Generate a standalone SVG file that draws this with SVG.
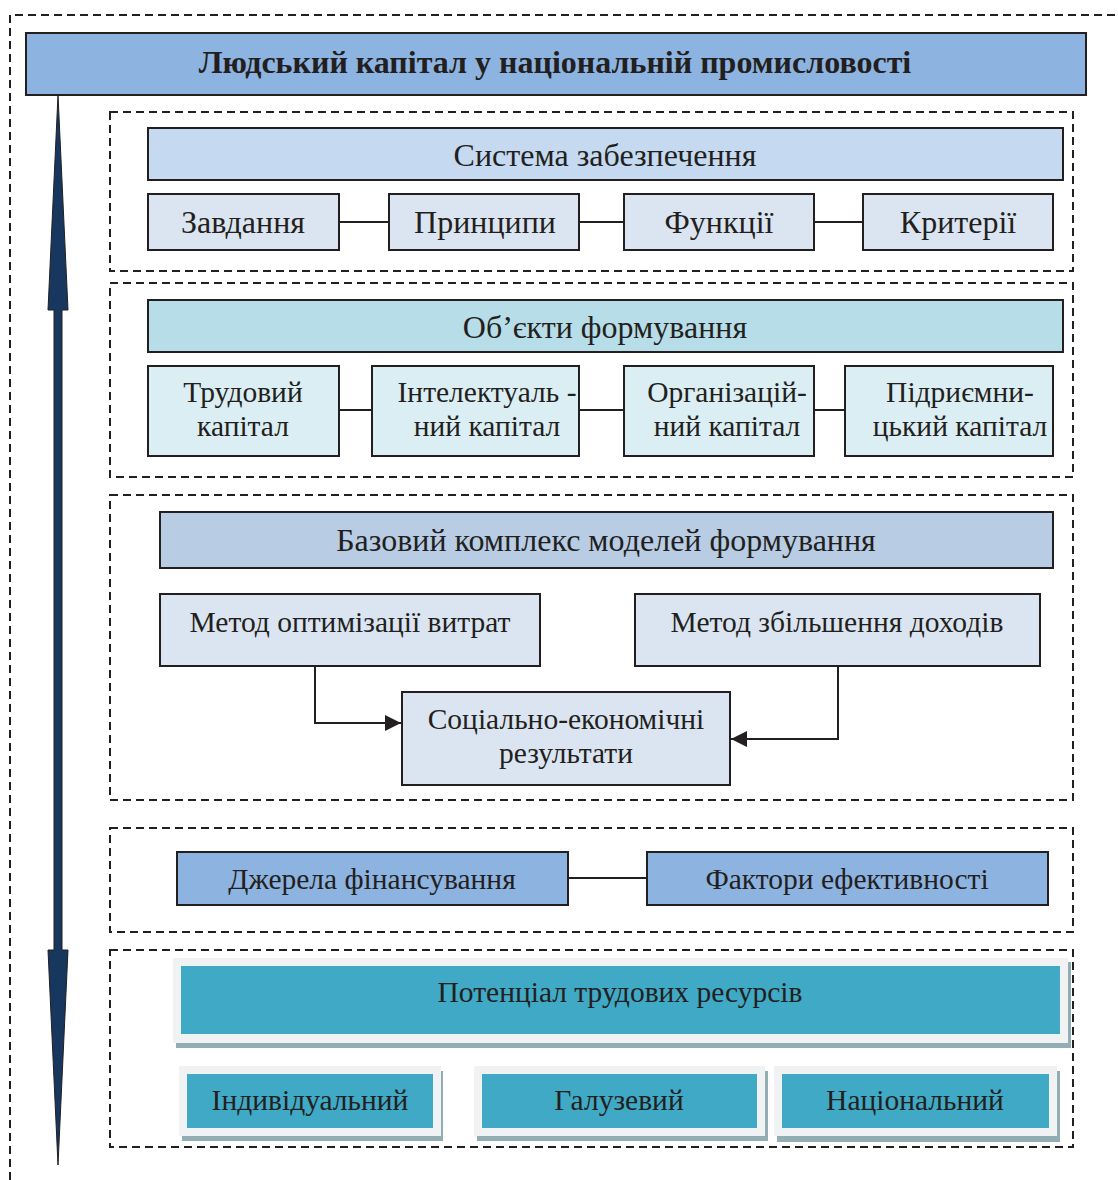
<svg xmlns="http://www.w3.org/2000/svg" width="1118" height="1180" viewBox="0 0 1118 1180">
<style>
text{font-family:"Liberation Serif","Times New Roman",serif;font-size:29.5px;fill:#231f20;text-anchor:middle}
.big{font-size:32px}
.title{font-weight:bold;font-size:32px}
.box{stroke:#231f20;stroke-width:2}
.grp{fill:none;stroke:#231f20;stroke-width:2;stroke-dasharray:8,5}
.ln{fill:none;stroke:#231f20;stroke-width:2}
.frame{fill:#f1f2f4}
.shd{fill:#93adb5}
.teal{fill:#3fa9c6}
</style>
<defs>
<marker id="ah" viewBox="0 0 10 10" refX="10" refY="5" markerWidth="16" markerHeight="16" markerUnits="userSpaceOnUse" orient="auto"><path d="M0,0 L10,5 L0,10 z" fill="#231f20"/></marker>
</defs>
<rect width="1118" height="1180" fill="#fff"/>
<path d="M10,1180 V15 H1118" class="grp"/>

<g id="title"><rect class="box" x="26" y="33" width="1060" height="62" fill="#8db3e0"/><text class="title" x="555" y="73">Людський капітал у національній промисловості</text></g>

<g id="arrow"><path d="M58,95 L68,310 L62,310 L62,950 L68,950 L58,1165 L48,950 L54,950 L54,310 L48,310 Z" fill="#17375e" stroke="#231f20" stroke-width="1"/></g>

<g id="groups">
<rect class="grp" x="110" y="112" width="963" height="159"/>
<rect class="grp" x="110" y="283" width="963" height="194"/>
<rect class="grp" x="110" y="495" width="963" height="305"/>
<rect class="grp" x="110" y="828" width="963" height="104"/>
<rect class="grp" x="110" y="950" width="963" height="197"/>
</g>

<g id="connectors">
<path class="ln" d="M339,222 H389 M579,222 H624 M814,222 H863"/>
<path class="ln" d="M339,410 H372 M579,410 H624 M814,410 H845"/>
<path class="ln" d="M315,666 V723 H401" marker-end="url(#ah)"/>
<path class="ln" d="M838,666 V739 H731" marker-end="url(#ah)"/>
<path class="ln" d="M568,878 H647"/>
</g>

<g id="sys"><rect class="box" x="148" y="128" width="915" height="52" fill="#c5d9f1"/><text class="big" x="605" y="166">Система забезпечення</text></g>
<g id="zavd"><rect class="box" x="148" y="194" width="191" height="56" fill="#dbe5f1"/><text class="big" x="243" y="233">Завдання</text></g>
<g id="pryn"><rect class="box" x="389" y="194" width="190" height="56" fill="#dbe5f1"/><text class="big" x="485" y="233">Принципи</text></g>
<g id="funk"><rect class="box" x="624" y="194" width="190" height="56" fill="#dbe5f1"/><text class="big" x="719" y="233">Функції</text></g>
<g id="kryt"><rect class="box" x="863" y="194" width="190" height="56" fill="#dbe5f1"/><text class="big" x="958" y="233">Критерії</text></g>

<g id="obj"><rect class="box" x="148" y="300" width="915" height="52" fill="#b7dde8"/><text class="big" x="605" y="338">Об’єкти формування</text></g>
<g id="trud"><rect class="box" x="148" y="366" width="191" height="90" fill="#daeef3"/><text x="243" y="402">Трудовий</text><text x="243" y="436">капітал</text></g>
<g id="intel"><rect class="box" x="372" y="366" width="207" height="90" fill="#daeef3"/><text x="487" y="402">Інтелектуаль -</text><text x="487" y="436">ний капітал</text></g>
<g id="org"><rect class="box" x="624" y="366" width="190" height="90" fill="#daeef3"/><text x="727" y="402">Організацій-</text><text x="727" y="436">ний капітал</text></g>
<g id="pidr"><rect class="box" x="845" y="366" width="208" height="90" fill="#daeef3"/><text x="960" y="402">Підриємни-</text><text x="960" y="436">цький капітал</text></g>

<g id="baz"><rect class="box" x="160" y="512" width="893" height="56" fill="#b8cce4"/><text class="big" x="606" y="551">Базовий комплекс моделей формування</text></g>
<g id="opt"><rect class="box" x="160" y="594" width="380" height="72" fill="#dbe5f1"/><text x="350" y="632">Метод оптимізації витрат</text></g>
<g id="doh"><rect class="box" x="635" y="594" width="405" height="72" fill="#dbe5f1"/><text x="837" y="632">Метод збільшення доходів</text></g>
<g id="soc"><rect class="box" x="402" y="692" width="328" height="93" fill="#dbe5f1"/><text x="566" y="729">Соціально-економічні</text><text x="566" y="763">результати</text></g>

<g id="dzh"><rect class="box" x="177" y="852" width="391" height="53" fill="#8db3e0"/><text x="372" y="889">Джерела фінансування</text></g>
<g id="fakt"><rect class="box" x="647" y="852" width="401" height="53" fill="#8db3e0"/><text x="847" y="889">Фактори ефективності</text></g>

<g id="pot"><rect class="shd" x="176" y="962" width="895" height="86"/><rect class="frame" x="173" y="958" width="895" height="85"/><rect class="teal" x="181" y="966" width="879" height="68"/><text x="620" y="1002">Потенціал трудових ресурсів</text></g>
<g id="ind"><rect class="shd" x="182" y="1071" width="261" height="70"/><rect class="frame" x="179" y="1066" width="262" height="70"/><rect class="teal" x="187" y="1074" width="246" height="54"/><text x="310" y="1110">Індивідуальний</text></g>
<g id="gal"><rect class="shd" x="477" y="1071" width="291" height="70"/><rect class="frame" x="474" y="1066" width="291" height="70"/><rect class="teal" x="482" y="1074" width="275" height="54"/><text x="619" y="1110">Галузевий</text></g>
<g id="nac"><rect class="shd" x="777" y="1071" width="283" height="71"/><rect class="frame" x="774" y="1066" width="283" height="70"/><rect class="teal" x="782" y="1074" width="267" height="54"/><text x="915" y="1110">Національний</text></g>
</svg>
